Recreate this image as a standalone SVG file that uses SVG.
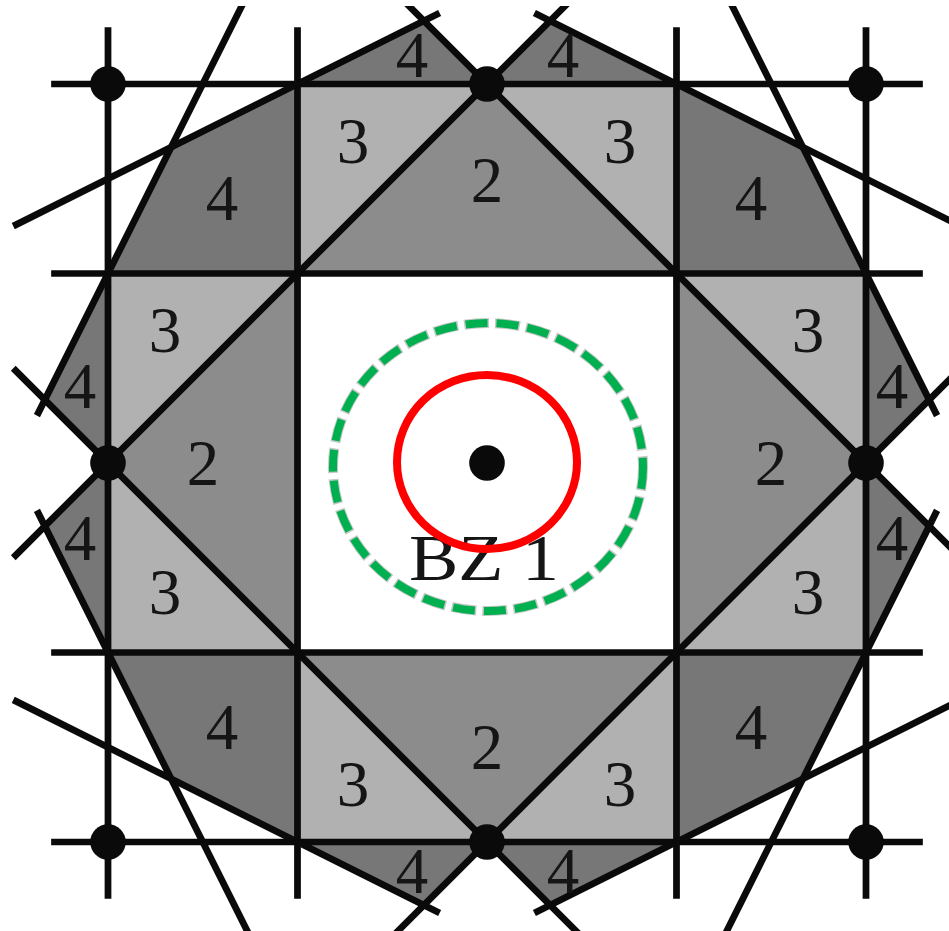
<svg xmlns="http://www.w3.org/2000/svg" width="949" height="931" viewBox="0 0 949 931">
<style>
.z2{fill:#8c8c8c}
.z3{fill:#b1b1b1}
.z4{fill:#777777}
.ln{stroke:#0a0a0a;stroke-width:0.0178;fill:none}
.dot{fill:#0a0a0a}
.lbl{font-family:"Liberation Serif","DejaVu Serif",serif;font-size:65px;fill:#151515;text-anchor:middle}
</style>
<defs>
<clipPath id="crop"><rect x="0" y="6" width="949" height="925"/></clipPath>
</defs>
<rect width="949" height="931" fill="#fff"/>
<g clip-path="url(#crop)">
<g id="zone2" transform="translate(487 463) scale(379)">
<polygon class="z2" points="-0.5,-0.5 0.5,-0.5 0,-1"/>
<polygon class="z2" points="0.5,-0.5 0.5,0.5 1,0"/>
<polygon class="z2" points="-0.5,0.5 0.5,0.5 0,1"/>
<polygon class="z2" points="-0.5,-0.5 -0.5,0.5 -1,0"/>
</g>
<g id="zone3" transform="translate(487 463) scale(379)">
<polygon class="z3" points="-0.5,-1 0,-1 -0.5,-0.5"/>
<polygon class="z3" points="0,-1 0.5,-1 0.5,-0.5"/>
<polygon class="z3" points="0.5,-0.5 1,-0.5 1,0"/>
<polygon class="z3" points="1,0 1,0.5 0.5,0.5"/>
<polygon class="z3" points="0.5,0.5 0.5,1 0,1"/>
<polygon class="z3" points="0,1 -0.5,1 -0.5,0.5"/>
<polygon class="z3" points="-0.5,0.5 -1,0.5 -1,0"/>
<polygon class="z3" points="-1,0 -1,-0.5 -0.5,-0.5"/>
</g>
<g id="zone4" transform="translate(487 463) scale(379)">
<polygon class="z4" points="-1,-0.5 -0.5,-0.5 -0.5,-1 -0.83333,-0.83333"/>
<polygon class="z4" points="1,-0.5 0.5,-0.5 0.5,-1 0.83333,-0.83333"/>
<polygon class="z4" points="1,0.5 0.5,0.5 0.5,1 0.83333,0.83333"/>
<polygon class="z4" points="-1,0.5 -0.5,0.5 -0.5,1 -0.83333,0.83333"/>
<polygon class="z4" points="-0.5,-1 0,-1 -0.16667,-1.16667"/>
<polygon class="z4" points="0,-1 0.5,-1 0.16667,-1.16667"/>
<polygon class="z4" points="1,-0.5 1,0 1.16667,-0.16667"/>
<polygon class="z4" points="1,0 1,0.5 1.16667,0.16667"/>
<polygon class="z4" points="0.5,1 0,1 0.16667,1.16667"/>
<polygon class="z4" points="0,1 -0.5,1 -0.16667,1.16667"/>
<polygon class="z4" points="-1,0.5 -1,0 -1.16667,0.16667"/>
<polygon class="z4" points="-1,0 -1,-0.5 -1.16667,-0.16667"/>
</g>
<g id="connectors" transform="translate(487 463) scale(379)">
<path class="ln" d="M-1.15 -1H1.15M-1.15 -0.5H1.15M-1.15 0.5H1.15M-1.15 1H1.15"/>
<path class="ln" d="M-1 -1.15V1.15M-0.5 -1.15V1.15M0.5 -1.15V1.15M1 -1.15V1.15"/>
<path class="ln" d="M1.25 0.25L-0.25 -1.25M-1.25 0.25L0.25 -1.25M-1.25 -0.25L0.25 1.25M1.25 -0.25L-0.25 1.25"/>
<path class="ln" d="M-1.25 -0.625L-0.125 -1.1875M1.25 -0.625L0.125 -1.1875M-1.25 0.625L-0.125 1.1875M1.25 0.625L0.125 1.1875"/>
<path class="ln" d="M-0.625 -1.25L-1.1875 -0.125M0.625 -1.25L1.1875 -0.125M-0.625 1.25L-1.1875 0.125M0.625 1.25L1.1875 0.125"/>
</g>
<g id="lattice-points" transform="translate(487 463) scale(379)">
<circle class="dot" cx="-1" cy="-1" r="0.047"/>
<circle class="dot" cx="0" cy="-1" r="0.047"/>
<circle class="dot" cx="1" cy="-1" r="0.047"/>
<circle class="dot" cx="-1" cy="0" r="0.047"/>
<circle class="dot" cx="0" cy="0" r="0.047"/>
<circle class="dot" cx="1" cy="0" r="0.047"/>
<circle class="dot" cx="-1" cy="1" r="0.047"/>
<circle class="dot" cx="0" cy="1" r="0.047"/>
<circle class="dot" cx="1" cy="1" r="0.047"/>
</g>
</g>
<g id="labels">
<text class="lbl" x="222" y="220">4</text>
<text class="lbl" x="353" y="163">3</text>
<text class="lbl" x="487" y="202">2</text>
<text class="lbl" x="620" y="163">3</text>
<text class="lbl" x="412" y="77">4</text>
<text class="lbl" x="563" y="77">4</text>
<text class="lbl" x="751" y="220">4</text>
<text class="lbl" x="80" y="408">4</text>
<text class="lbl" x="165" y="352">3</text>
<text class="lbl" x="203" y="485">2</text>
<text class="lbl" x="80" y="560">4</text>
<text class="lbl" x="165" y="614">3</text>
<text class="lbl" x="771" y="485">2</text>
<text class="lbl" x="808" y="352">3</text>
<text class="lbl" x="892" y="408">4</text>
<text class="lbl" x="892" y="560">4</text>
<text class="lbl" x="808" y="614">3</text>
<text class="lbl" x="222" y="749">4</text>
<text class="lbl" x="751" y="749">4</text>
<text class="lbl" x="487" y="769">2</text>
<text class="lbl" x="353" y="806">3</text>
<text class="lbl" x="620" y="806">3</text>
<text class="lbl" x="412" y="893">4</text>
<text class="lbl" x="563" y="893">4</text>
<text class="lbl" x="484" y="580" textLength="150" lengthAdjust="spacingAndGlyphs">BZ 1</text>
</g>
<g id="fermi-circles">
<ellipse cx="487" cy="462" rx="90" ry="87" fill="none" stroke="#ff0000" stroke-width="8"/>
<ellipse cx="488" cy="467" rx="155" ry="144" fill="none" stroke="#c8c8c8" stroke-width="10" stroke-dasharray="25 6" stroke-dashoffset="1.5"/>
<ellipse cx="488" cy="467" rx="155" ry="144" fill="none" stroke="#00b050" stroke-width="8" stroke-dasharray="22 9"/>
</g>
</svg>
